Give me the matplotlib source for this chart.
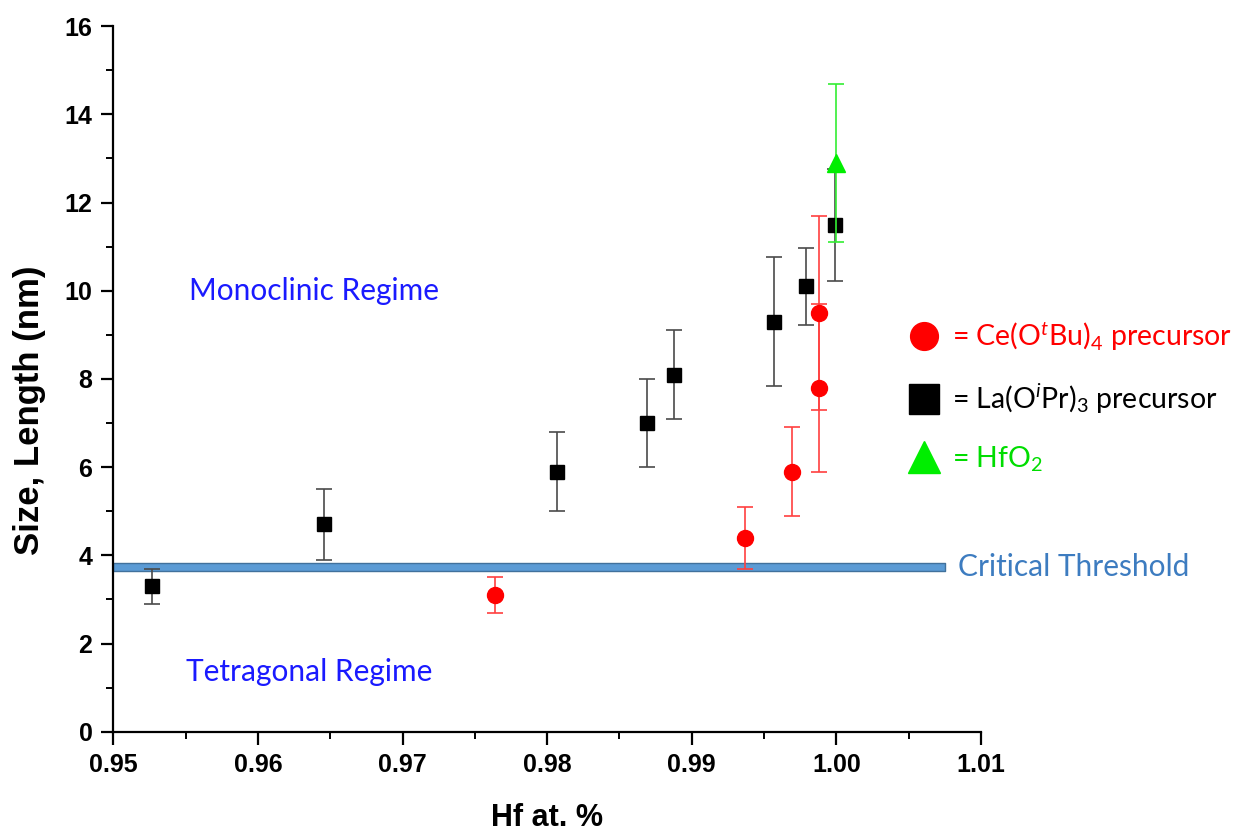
import matplotlib
matplotlib.use("Agg")
import matplotlib.pyplot as plt
from matplotlib.lines import Line2D
from matplotlib.ticker import MultipleLocator, FormatStrFormatter

plt.rcParams['mathtext.fontset'] = 'custom'
plt.rcParams['mathtext.rm'] = 'Lato'
plt.rcParams['mathtext.it'] = 'Lato:italic'

# ---- data ----
la_x = [0.9527, 0.9646, 0.9807, 0.9869, 0.9888, 0.9957, 0.9979, 0.9999]
la_y = [3.3, 4.7, 5.9, 7.0, 8.1, 9.3, 10.1, 11.5]
la_err = [0.4, 0.8, 0.9, 1.0, 1.0, 1.47, 0.88, 1.27]

ce_x = [0.9764, 0.9937, 0.9969, 0.9988, 0.9988]
ce_y = [3.1, 4.4, 5.9, 9.5, 7.8]
ce_err = [0.4, 0.7, 1.0, 2.2, 1.9]

hf_x = [1.0000]
hf_y = [12.9]
hf_err = [1.8]

threshold = 3.74
threshold_x = [0.95, 1.0075]

xticks = [0.95, 0.96, 0.97, 0.98, 0.99, 1.00, 1.01]
yticks = [0, 2, 4, 6, 8, 10, 12, 14, 16]

# ---- figure ----
fig = plt.figure(figsize=(12.45, 8.32), dpi=100)
ax = fig.add_axes([0.091, 0.1205, 0.697, 0.848])

lab_font = 'Liberation Sans'

# threshold band
ax.fill_between(threshold_x, threshold - 0.09, threshold + 0.09,
                facecolor='#5b9bd5', edgecolor='#41719c', lw=1.0, zorder=2,
                clip_on=False)

ax.errorbar(la_x, la_y, yerr=la_err, fmt='s', color='black', ms=10,
            ecolor='#4a4a4a', elinewidth=1.2, capsize=6, capthick=1.2, zorder=3)
ax.errorbar(ce_x, ce_y, yerr=ce_err, fmt='o', color='#ff0000', ms=11.5,
            ecolor='#ff4040', elinewidth=1.2, capsize=6, capthick=1.2, zorder=4)
ax.errorbar(hf_x, hf_y, yerr=hf_err, fmt='^', color='#00ee00', ms=13,
            ecolor='#33ee33', elinewidth=1.2, capsize=6, capthick=1.2, zorder=5)

ax.set_xlim(0.95, 1.01)
ax.set_ylim(0, 16)
ax.set_xticks(xticks)
ax.set_yticks(yticks)
ax.xaxis.set_major_formatter(FormatStrFormatter('%.2f'))
ax.xaxis.set_minor_locator(MultipleLocator(0.005))
ax.yaxis.set_minor_locator(MultipleLocator(1))

for s in ['top', 'right']:
    ax.spines[s].set_visible(False)
for s in ['left', 'bottom']:
    ax.spines[s].set_linewidth(1.6)

ax.tick_params(which='major', direction='out', length=9, width=1.6,
               labelsize=18, pad=6)
ax.tick_params(which='minor', direction='out', length=5, width=1.4)
for lab in ax.get_xticklabels() + ax.get_yticklabels():
    lab.set_fontweight('bold')
    lab.set_family(lab_font)

ax.set_xlabel('Hf at. %', fontsize=22, fontweight='bold', family=lab_font)
ax.xaxis.set_label_coords(0.5, -0.101)
ax.set_ylabel('Size, Length (nm)', fontsize=25, fontweight='bold', family=lab_font)
ax.yaxis.set_label_coords(-0.078, 0.455)

txt_font = 'Lato'
ax.text(0.9552, 10.0, 'Monoclinic Regime', color='#1a1aff', fontsize=21.5,
        family=txt_font, va='center', ha='left')
ax.text(0.9550, 1.36, 'Tetragonal Regime', color='#1a1aff', fontsize=21.5,
        family=txt_font, va='center', ha='left')
ax.text(1.0084, threshold, 'Critical Threshold', color='#3d7cc0', fontsize=21.5,
        family=txt_font, va='center', ha='left', clip_on=False)

handles = [
    Line2D([], [], marker='o', ls='none', color='#ff0000', ms=20),
    Line2D([], [], marker='s', ls='none', color='black', ms=21),
    Line2D([], [], marker='^', ls='none', color='#00ee00', ms=23),
]
labels = [r'= Ce(O$^{\mathit{t}}$Bu)$_4$ precursor',
          r'= La(O$^{\mathit{i}}$Pr)$_3$ precursor',
          r'= HfO$_2$']
leg = ax.legend(handles, labels, loc='center left', bbox_to_anchor=(0.898, 0.475),
                frameon=False, prop={'family': txt_font, 'size': 20.5},
                labelspacing=1.0, handletextpad=0.3, handlelength=1.4,
                borderaxespad=0)
for t, c in zip(leg.get_texts(), ['#ff0000', 'black', '#00dd00']):
    t.set_color(c)

fig.savefig('out.png', dpi=100)
